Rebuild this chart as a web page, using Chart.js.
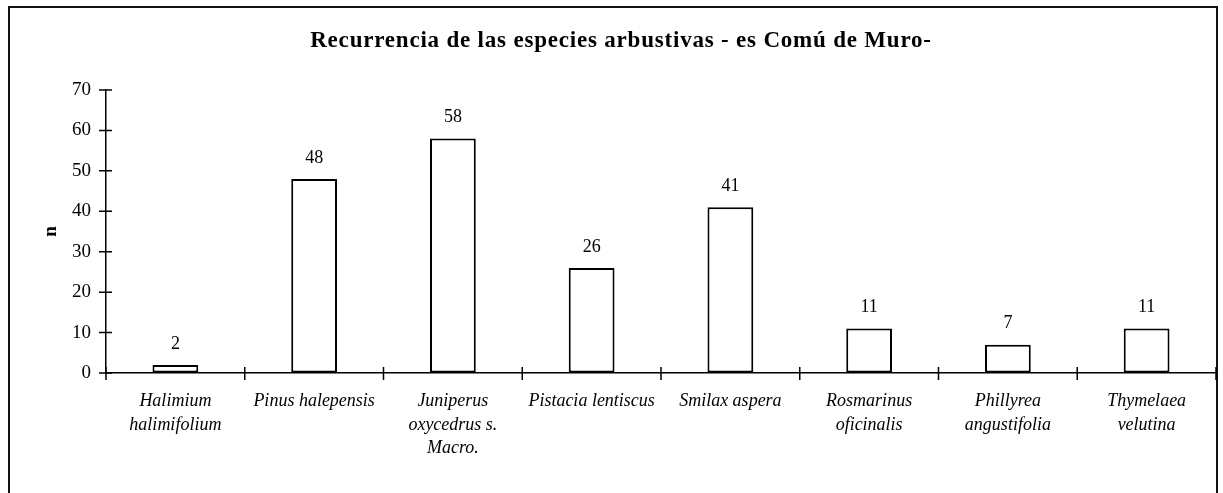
<!DOCTYPE html>
<html lang="es">
<head>
<meta charset="UTF-8">
<title>Recurrencia de las especies arbustivas</title>
<script src="https://cdn.jsdelivr.net/npm/chart.js@4.4.0/dist/chart.umd.min.js"></script>
<style>
  html, body { margin: 0; padding: 0; background: #fff; overflow: hidden; }
  #wrap { position: relative; width: 1223px; height: 493px; }
  #frame { position: absolute; left: 8px; top: 6px; width: 1210px; height: 600px;
           border: 2px solid #111; box-sizing: border-box; }
  #chart { position: absolute; left: 0; top: 0; }
</style>
</head>
<body>
<div id="wrap">
  <div id="frame"></div>
  <canvas id="chart" width="1223" height="493"></canvas>
</div>
<script>
// species (multi-line labels) and number of records
const species = [
  ['Halimium', 'halimifolium'],
  ['Pinus halepensis'],
  ['Juniperus', 'oxycedrus s.', 'Macro.'],
  ['Pistacia lentiscus'],
  ['Smilax aspera'],
  ['Rosmarinus', 'oficinalis'],
  ['Phillyrea', 'angustifolia'],
  ['Thymelaea', 'velutina']
];
const counts = [2, 48, 58, 26, 41, 11, 7, 11];
const yMin = 0;
const yMax = 70;
const yStep = 10;

const chartTitle = 'Recurrencia de las especies arbustivas - es Comú de Muro-';
const serif = "'Liberation Serif', 'Times New Roman', serif";

// bold title, a little letter-spaced, drawn in the top padding
const spacedTitle = {
  id: 'spacedTitle',
  afterDraw(chart) {
    const ctx = chart.ctx;
    ctx.save();
    ctx.fillStyle = '#000';
    ctx.font = 'bold 23px ' + serif;
    ctx.letterSpacing = '0.8px';
    ctx.textAlign = 'center';
    ctx.textBaseline = 'middle';
    ctx.fillText(chartTitle, 621, 41);
    ctx.restore();
  }
};

// small tick marks that cross both axes
const crossTicks = {
  id: 'crossTicks',
  afterDraw(chart) {
    const ctx = chart.ctx;
    const x = chart.scales.x, y = chart.scales.y;
    ctx.save();
    ctx.strokeStyle = '#000';
    ctx.lineWidth = 1.5;
    ctx.beginPath();
    y.ticks.forEach(t => {
      const py = y.getPixelForValue(t.value);
      ctx.moveTo(x.left - 7, py);
      ctx.lineTo(x.left + 6, py);
    });
    for (let i = 0; i <= counts.length; i++) {
      const px = x.getPixelForValue(i - 0.5);
      ctx.moveTo(px, y.bottom - 6);
      ctx.lineTo(px, y.bottom + 7);
    }
    ctx.stroke();
    ctx.restore();
  }
};

// value printed above each bar
const barValues = {
  id: 'barValues',
  afterDatasetsDraw(chart) {
    const ctx = chart.ctx;
    const meta = chart.getDatasetMeta(0);
    ctx.save();
    ctx.fillStyle = '#000';
    ctx.font = '18px ' + serif;
    ctx.textAlign = 'center';
    ctx.textBaseline = 'middle';
    meta.data.forEach((bar, i) => {
      ctx.fillText(String(counts[i]), bar.x, bar.y - 21);
    });
    ctx.restore();
  }
};

new Chart(document.getElementById('chart'), {
  type: 'bar',
  data: {
    labels: species,
    datasets: [{
      data: counts,
      backgroundColor: '#fff',
      borderColor: '#000',
      borderWidth: 2,
      borderSkipped: false,
      barPercentage: 0.33,
      categoryPercentage: 1
    }]
  },
  options: {
    responsive: false,
    animation: false,
    layout: { padding: { left: 0, right: 7, top: 90, bottom: 0 } },
    plugins: {
      legend: { display: false },
      tooltip: { enabled: false },
      title: { display: false }
    },
    scales: {
      x: {
        offset: true,
        grid: { display: false, drawTicks: false },
        border: { display: true, color: '#000', width: 1.5 },
        ticks: {
          color: '#000',
          maxRotation: 0,
          autoSkip: false,
          padding: 17,
          font: { family: serif, size: 18, style: 'italic', lineHeight: 1.3 }
        },
        afterFit(scale) { scale.height = 120; }
      },
      y: {
        min: yMin,
        max: yMax,
        grid: { drawOnChartArea: false, drawTicks: false },
        border: { display: true, color: '#000', width: 1.5 },
        ticks: {
          stepSize: yStep,
          color: '#000',
          padding: 15,
          font: { family: serif, size: 19 }
        },
        title: {
          display: true,
          text: 'n',
          color: '#000',
          font: { family: serif, size: 19, weight: 'bold' },
          padding: { top: 40 }
        },
        afterFit(scale) { scale.width = 106; }
      }
    }
  },
  plugins: [crossTicks, barValues, spacedTitle]
});
</script>
</body>
</html>
